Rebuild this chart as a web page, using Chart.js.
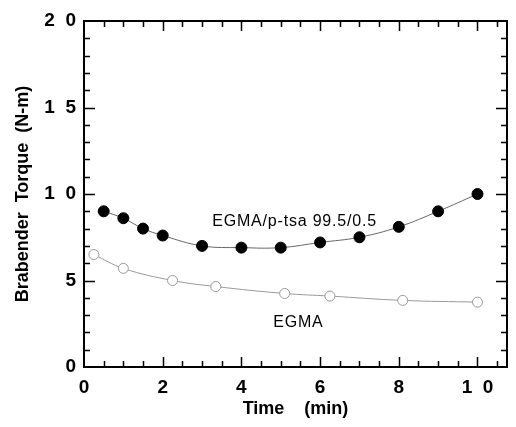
<!DOCTYPE html>
<html>
<head>
<meta charset="utf-8">
<script src="https://cdn.jsdelivr.net/npm/chart.js@4/dist/chart.umd.min.js"></script>
<style>
  html, body { margin: 0; padding: 0; background: #fff; }
  canvas { display: block; }
</style>
</head>
<body>
<canvas id="c" width="516" height="427"></canvas>
<script>
// ---- Data ----
const tsaTime   = [0.5, 1.0, 1.5, 2.0, 3.0, 4.0, 5.0, 6.0, 7.0, 8.0, 9.0, 10.0];
const tsaTorque = [9.0, 8.6, 8.0, 7.6, 7.0, 6.9, 6.9, 7.2, 7.5, 8.1, 9.0, 10.0];
const egmaTime   = [0.25, 1.0, 2.25, 3.35, 5.1, 6.25, 8.1, 10.0];
const egmaTorque = [6.5, 5.7, 5.0, 4.65, 4.25, 4.1, 3.85, 3.75];

const xTickValues = [0, 2, 4, 6, 8, 10];
const xTickLabels = ['0', '2', '4', '6', '8', '1  0'];
const yTickValues = [0, 5, 10, 15, 20];
const yTickLabels = ['0', '5', '1  0', '1  5', '2  0'];

const seriesNames = ['EGMA/p-tsa 99.5/0.5', 'EGMA'];
const xTitle = 'Time    (min)';
const yTitle = 'Brabender  Torque  (N-m)';

// annotation anchors (data coordinates)
const noteX = [3.26, 4.81];
const noteY = [8.17, 2.32];

const FONT = '"Liberation Sans", Arial, Helvetica, sans-serif';

const toPts = (xs, ys) => xs.map((x, i) => ({ x: x, y: ys[i] }));

const framePlugin = {
  id: 'frame',
  afterDatasetsDraw(chart) {
    const ctx = chart.ctx;
    const a = chart.chartArea;
    const xs = chart.scales.x, ys = chart.scales.y;
    ctx.save();
    ctx.strokeStyle = '#000';
    ctx.lineWidth = 2;
    ctx.strokeRect(a.left, a.top, a.right - a.left, a.bottom - a.top);
    ctx.lineWidth = 1.5;
    ctx.beginPath();
    // x ticks every 0.5, major at even integers
    for (let k = 1; k * 0.5 < xs.max; k++) {
      const v = k * 0.5;
      const px = Math.round(xs.getPixelForValue(v)) + 0.5;
      const major = (v % 2 === 0);
      const len = major ? 10 : 6;
      ctx.moveTo(px, a.bottom); ctx.lineTo(px, a.bottom - len);
      ctx.moveTo(px, a.top); ctx.lineTo(px, a.top + len);
    }
    // y ticks every 1, major every 5
    for (let k = 1; k < ys.max; k++) {
      const py = Math.round(ys.getPixelForValue(k)) + 0.5;
      const major = (k % 5 === 0);
      const len = major ? 11 : 6;
      ctx.moveTo(a.left, py); ctx.lineTo(a.left + len, py);
      ctx.moveTo(a.right, py); ctx.lineTo(a.right - len, py);
    }
    ctx.stroke();

    // annotations
    ctx.fillStyle = '#000';
    ctx.font = '16px ' + FONT;
    ctx.textAlign = 'left';
    ctx.textBaseline = 'alphabetic';
    try { ctx.letterSpacing = '0.8px'; } catch (e) {}
    for (let i = 0; i < seriesNames.length; i++) {
      ctx.fillText(seriesNames[i], xs.getPixelForValue(noteX[i]), ys.getPixelForValue(noteY[i]));
    }
    ctx.restore();
  }
};

new Chart(document.getElementById('c'), {
  type: 'line',
  data: {
    datasets: [
      {
        label: seriesNames[0],
        data: toPts(tsaTime, tsaTorque),
        borderColor: '#666',
        borderWidth: 1,
        tension: 0.4,
        pointRadius: 5.5,
        pointBackgroundColor: '#000',
        pointBorderColor: '#000',
        pointBorderWidth: 1,
        clip: false
      },
      {
        label: seriesNames[1],
        data: toPts(egmaTime, egmaTorque),
        borderColor: '#999',
        borderWidth: 1,
        tension: 0.4,
        pointRadius: 5,
        pointBackgroundColor: '#fff',
        pointBorderColor: '#999',
        pointBorderWidth: 1,
        clip: false
      }
    ]
  },
  options: {
    responsive: false,
    animation: false,
    devicePixelRatio: 1,
    layout: { padding: { left: 0, right: 9, top: 21, bottom: 0 } },
    plugins: { legend: { display: false }, tooltip: { enabled: false } },
    scales: {
      x: {
        type: 'linear',
        position: 'bottom',
        min: 0, max: 10.75,
        afterBuildTicks: (s) => { s.ticks = xTickValues.map(v => ({ value: v })); },
        afterFit: (s) => { s.height = 60; },
        grid: { display: false, drawTicks: false },
        border: { display: false },
        ticks: {
          autoSkip: false, maxRotation: 0, minRotation: 0,
          padding: 9,
          color: '#000',
          font: { family: FONT, size: 19, weight: 'bold' },
          callback: (v, i) => xTickLabels[i]
        },
        title: {
          display: true, text: xTitle, color: '#000',
          font: { family: FONT, size: 18, weight: 'bold' },
          padding: { top: 0, bottom: 7 }
        }
      },
      y: {
        type: 'linear',
        min: 0, max: 20,
        afterBuildTicks: (s) => { s.ticks = yTickValues.map(v => ({ value: v })); },
        afterFit: (s) => { s.width = 84; },
        grid: { display: false, drawTicks: false },
        border: { display: false },
        ticks: {
          autoSkip: false,
          padding: 8,
          color: '#000',
          font: { family: FONT, size: 19, weight: 'bold' },
          callback: (v, i) => yTickLabels[i]
        },
        title: {
          display: true, text: yTitle, color: '#000',
          font: { family: FONT, size: 18, weight: 'bold' },
          padding: { top: 12, bottom: 0 }
        }
      }
    }
  },
  plugins: [framePlugin]
});
</script>
</body>
</html>
